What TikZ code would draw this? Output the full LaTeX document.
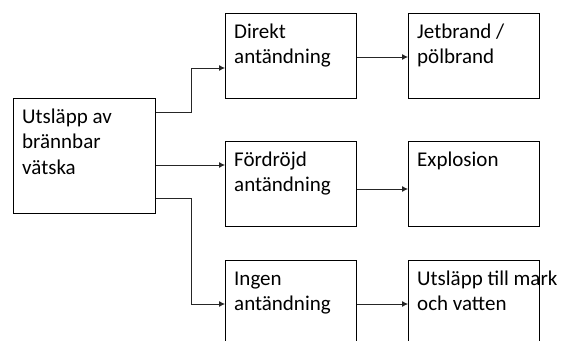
\documentclass[tikz,border=0pt]{standalone}
\usepackage{fontspec}
\setmainfont{Carlito}
\usetikzlibrary{arrows.meta}
\begin{document}
\begin{tikzpicture}[x=1pt,y=-1pt,
  box/.style={draw=black,line width=0.9pt,minimum width=131pt,minimum height=85pt,anchor=north west,inner sep=0pt},
  lbl/.style={anchor=north west,inner sep=0pt,align=left,xshift=9pt,yshift=-7.1pt,font=\fontsize{21}{25.6}\selectfont},
  arr/.style={draw=black!85,line width=0.8pt,-{Latex[length=6pt,width=6pt]}}]
\clip (0,0) rectangle (561,340);
\fill[white] (0,0) rectangle (561,340);
% boxes
\node[box,minimum width=142pt,minimum height=115pt] (src) at (13,98) {};
\node[box] (d1) at (225,13) {};
\node[box] (d2) at (225,141) {};
\node[box] (d3) at (225,260) {};
\node[box] (r1) at (408,13) {};
\node[box] (r2) at (408,141) {};
\node[box] (r3) at (408,260) {};
% labels
\node[lbl] (srct) at (src.north west) {\strut Utsläpp av\\brännbar\\vätska};
\node[lbl] (d1t) at (d1.north west) {\strut Direkt\\antändning};
\node[lbl] (d2t) at (d2.north west) {\strut Fördröjd\\antändning};
\node[lbl] (d3t) at (d3.north west) {\strut Ingen\\antändning};
\node[lbl] (r1t) at (r1.north west) {\strut Jetbrand /\\pölbrand};
\node[lbl] (r2t) at (r2.north west) {\strut Explosion};
\node[lbl] (r3t) at (r3.north west) {\strut Utsläpp till mark\\och vatten};
% bend points
\coordinate (b1) at (191,68);
\coordinate (b3) at (191,304);
% connectors
\draw[arr] (src.east |- 0,112) -| (b1) -- (d1.west |- b1);
\draw[arr] (src.east |- 0,165) -- (d2.west |- 0,165);
\draw[arr] (src.east |- 0,198) -| (b3) -- (d3.west |- b3);
\draw[arr] (d1.east |- 0,57) -- (r1.west |- 0,57);
\draw[arr] (d2.east |- 0,189) -- (r2.west |- 0,189);
\draw[arr] (d3.east |- 0,304) -- (r3.west |- 0,304);
\end{tikzpicture}
\end{document}
